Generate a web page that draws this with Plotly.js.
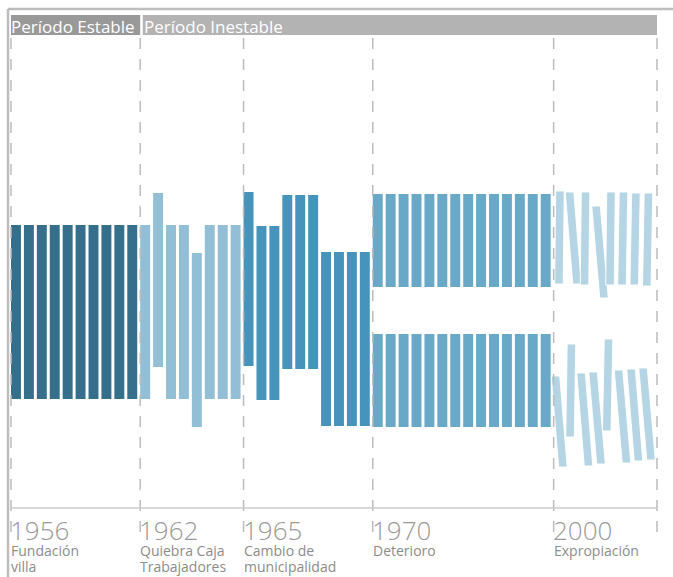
<!DOCTYPE html>
<html><head><meta charset="utf-8">
<script src="https://cdn.plot.ly/plotly-3.0.1.min.js"></script>
<style>html,body{margin:0;padding:0;background:#fff}#chart{width:673px;height:577px}</style>
</head><body><div id="chart"></div>
<script>
// ---- data ----
const years = ['1956', '1962', '1965', '1970', '2000'];
const events = ['Fundación<br>villa', 'Quiebra Caja<br>Trabajadores', 'Cambio de<br>municipalidad', 'Deterioro', 'Expropiación'];
const periodNames = ['Período Estable', 'Período Inestable'];
const dividerSlots = [0, 10, 18, 28, 42, 50];

const estableTop  = [283, 283, 283, 283, 283, 283, 283, 283, 283, 283];
const estableBase = [109, 109, 109, 109, 109, 109, 109, 109, 109, 109];

const quiebraTop  = [283, 315, 283, 283, 255, 283, 283, 283];
const quiebraBase = [109, 141, 109, 109, 81, 109, 109, 109];

const cambioTop  = [316, 282, 282, 313, 313, 313, 256, 256, 256, 256];
const cambioBase = [142, 108, 108, 139, 139, 139, 82, 82, 82, 82];

const deterioroUpperTop  = [314, 314, 314, 314, 314, 314, 314, 314, 314, 314, 314, 314, 314, 314];
const deterioroUpperBase = [221, 221, 221, 221, 221, 221, 221, 221, 221, 221, 221, 221, 221, 221];
const deterioroLowerTop  = [174, 174, 174, 174, 174, 174, 174, 174, 174, 174, 174, 174, 174, 174];
const deterioroLowerBase = [81, 81, 81, 81, 81, 81, 81, 81, 81, 81, 81, 81, 81, 81];

// tilted bars (Expropiación): x of top end, x of bottom end, top value, bottom value
const expUpperTopX = [42.49, 43.23, 44.47, 45.28, 46.44, 47.41, 48.37, 49.34];
const expUpperBotX = [42.41, 43.81, 44.39, 45.90, 46.36, 47.29, 48.24, 49.21];
const expUpperTop  = [317, 316, 316, 302, 316, 316, 315, 315];
const expUpperBot  = [224, 224, 223, 210, 223, 223, 223, 222];
const expLowerTopX = [42.14, 43.38, 44.12, 45.05, 46.25, 47.02, 47.99, 48.92];
const expLowerBotX = [42.72, 43.27, 44.70, 45.67, 46.11, 47.64, 48.57, 49.54];
const expLowerTop  = [132, 164, 135, 136, 169, 138, 139, 140];
const expLowerBot  = [41, 71, 42, 44, 77, 45, 47, 48];

// ---- styles ----
const C1 = '#356f8c', C2 = '#92bfd6', C3 = '#4694bb', C4 = '#6aa8c8', C5 = '#b5d5e4';
const BW = 0.77, HW = 0.33;

function barTrace(startSlot, tops, bases, color) {
  return {
    type: 'bar',
    x: tops.map((_, i) => startSlot + i + BW / 2),
    y: tops.map((t, i) => t - bases[i]),
    base: bases,
    width: BW,
    marker: {color: color, line: {width: 0}},
    hoverinfo: 'skip'
  };
}
function tiltTraces(topX, botX, tops, bots, color) {
  return topX.map((tx, i) => ({
    type: 'scatter', mode: 'lines', fill: 'toself', fillcolor: color,
    x: [tx - HW, tx + HW, botX[i] + HW, botX[i] - HW, tx - HW],
    y: [tops[i], tops[i], bots[i], bots[i], tops[i]],
    line: {color: 'rgba(255,255,255,0.9)', width: 1},
    hoverinfo: 'skip'
  }));
}

const traces = [
  barTrace(dividerSlots[0], estableTop, estableBase, C1),
  barTrace(dividerSlots[1], quiebraTop, quiebraBase, C2),
  barTrace(dividerSlots[2], cambioTop, cambioBase, C3),
  barTrace(dividerSlots[3], deterioroUpperTop, deterioroUpperBase, C4),
  barTrace(dividerSlots[3], deterioroLowerTop, deterioroLowerBase, C4),
  ...tiltTraces(expUpperTopX, expUpperBotX, expUpperTop, expUpperBot, C5),
  ...tiltTraces(expLowerTopX, expLowerBotX, expLowerTop, expLowerBot, C5)
];

const shapes = [];
// frame
shapes.push({type: 'line', xref: 'paper', yref: 'paper', x0: 8/673, x1: 1, y0: 1 - 9/577, y1: 1 - 9/577, line: {color: '#bdbdbd', width: 2.5}});
shapes.push({type: 'line', xref: 'paper', yref: 'paper', x0: 8/673, x1: 8/673, y0: 0, y1: 1 - 9/577, line: {color: '#bdbdbd', width: 2.5}});
// header boxes
shapes.push({type: 'rect', xref: 'x', yref: 'y', x0: dividerSlots[0], x1: dividerSlots[1], y0: 473, y1: 493, fillcolor: '#999999', line: {width: 0}, layer: 'below'});
shapes.push({type: 'rect', xref: 'x', yref: 'y', x0: dividerSlots[1] + 0.2, x1: dividerSlots[5], y0: 473, y1: 493, fillcolor: '#b3b3b3', line: {width: 0}, layer: 'below'});
// dashed dividers
dividerSlots.forEach(s => {
  shapes.push({type: 'line', xref: 'x', yref: 'y', x0: s, x1: s, y0: 470, y1: -28, line: {color: '#bcbcbc', width: 1.5, dash: '11px,10px'}, layer: 'above'});
});
// axis line
shapes.push({type: 'line', xref: 'x', yref: 'y', x0: dividerSlots[0], x1: dividerSlots[5], y0: 0, y1: 0, line: {color: '#cccccc', width: 1.5}});

const annotations = [];
annotations.push({x: dividerSlots[0], y: 482, xref: 'x', yref: 'y', xanchor: 'left', yanchor: 'middle', text: periodNames[0], showarrow: false, font: {family: 'Open Sans', size: 17, color: '#ffffff'}, borderpad: 0, xshift: -1});
annotations.push({x: dividerSlots[1] + 0.2, y: 482, xref: 'x', yref: 'y', xanchor: 'left', yanchor: 'middle', text: periodNames[1], showarrow: false, font: {family: 'Open Sans', size: 17, color: '#ffffff'}, borderpad: 0, xshift: 0});
years.forEach((yr, i) => {
  annotations.push({x: dividerSlots[i], y: -3, xref: 'x', yref: 'y', xanchor: 'left', yanchor: 'top', text: yr, showarrow: false, font: {family: 'Open Sans', size: 26, color: '#9a9a9a', weight: 300}, borderpad: 0, xshift: -2});
  events[i].split('<br>').forEach((line, k) => {
    annotations.push({x: dividerSlots[i], y: -32 - 16 * k, xref: 'x', yref: 'y', xanchor: 'left', yanchor: 'top', align: 'left', text: line, showarrow: false, font: {family: 'Open Sans', size: 14, color: '#8c8c8c'}, borderpad: 0, xshift: -1});
  });
});

const layout = {
  width: 673, height: 577,
  margin: {l: 0, r: 0, t: 0, b: 0},
  paper_bgcolor: '#ffffff', plot_bgcolor: '#ffffff',
  showlegend: false,
  barmode: 'overlay',
  xaxis: {range: [-11/12.92, 662/12.92], visible: false, fixedrange: true},
  yaxis: {range: [-69, 508], visible: false, fixedrange: true},
  shapes: shapes,
  annotations: annotations
};
Plotly.newPlot('chart', traces, layout, {staticPlot: true, displayModeBar: false});
</script></body></html>
